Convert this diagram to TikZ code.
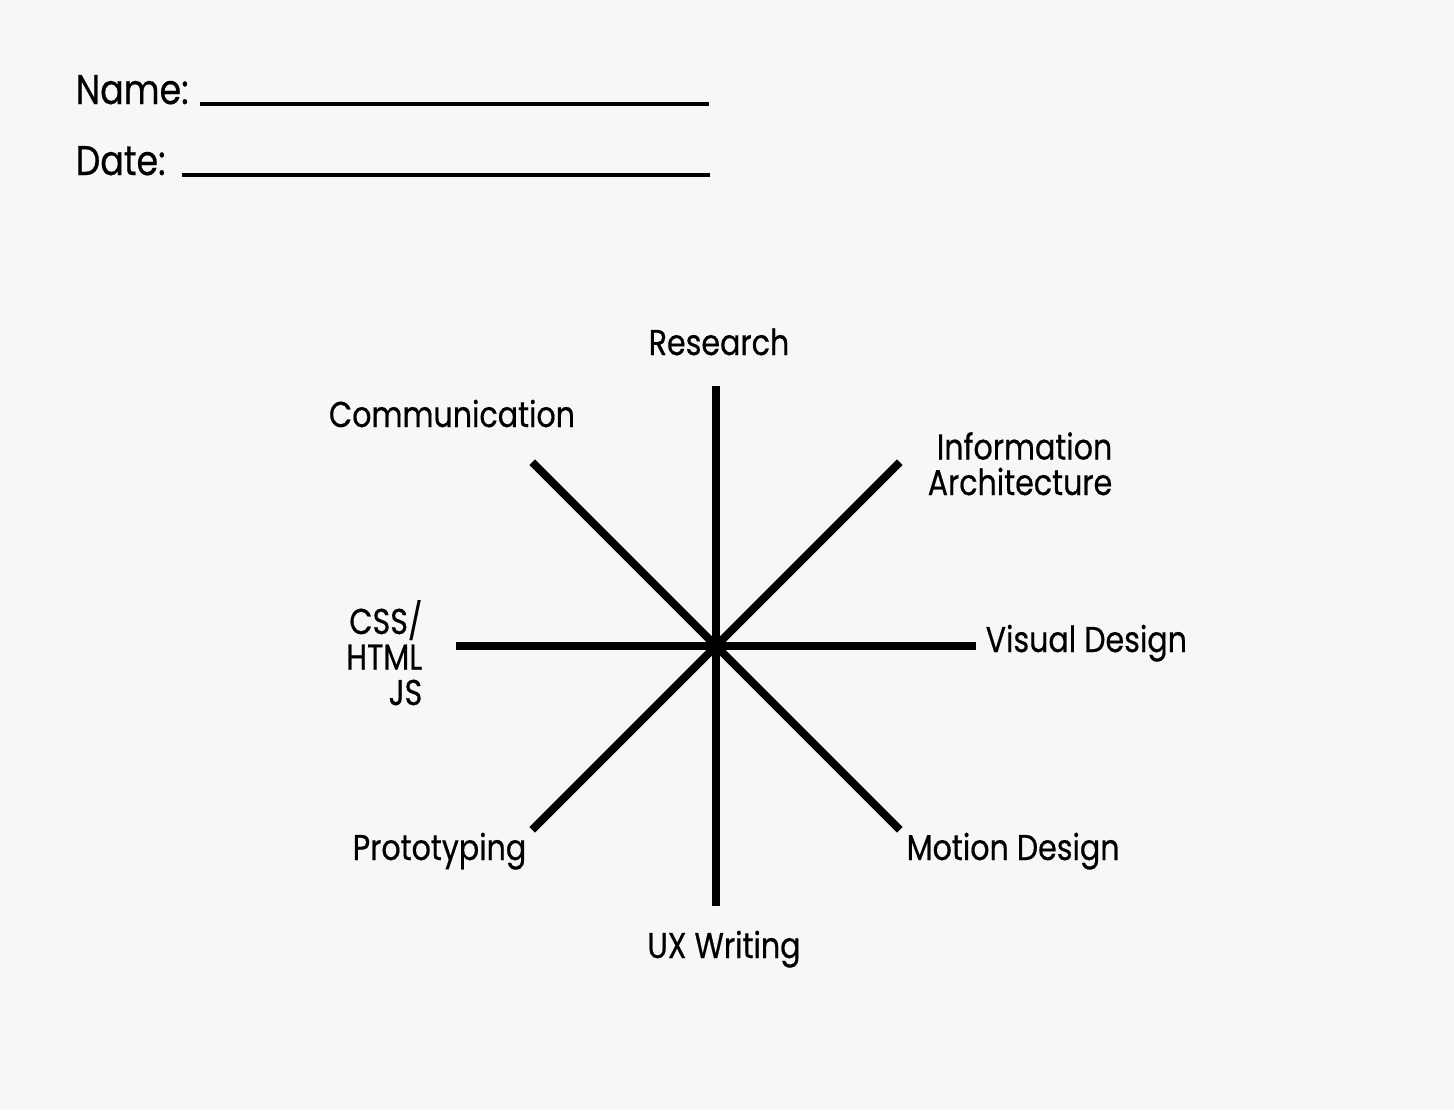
\documentclass[tikz,border=0pt]{standalone}
\usepackage{fontspec}
\setmainfont{Poppins}[FakeStretch=0.84, FakeBold=0.5]
\usetikzlibrary{positioning, calc}
\definecolor{paper}{RGB}{247,247,247}

\begin{document}
\begin{tikzpicture}[
  label text/.style={font=\fontsize{10.2pt}{10.1pt}\selectfont, inner sep=0pt, text=black},
  field text/.style={font=\fontsize{11.8pt}{12pt}\selectfont, inner sep=0pt, text=black},
  spoke/.style={line width=2.3pt, line cap=butt},
  blank/.style={line width=1.4pt}
]
% Paper
\fill[paper] (0, 0) rectangle (14.54, 11.10);
\useasboundingbox (0, 0) rectangle (14.54, 11.10);

% Name / Date fields
\node[field text, anchor=base west] (name) at (0.75, 10.06) {Name:};
\coordinate (name end) at (7.09, 10.06);
\draw[blank] ($(name.base east)+(0.11, 0)$) -- (name end);
\node[field text, anchor=base west] (date) at (0.75, 9.35) {Date:};
\coordinate (date end) at (7.10, 9.35);
\draw[blank] ($(date.base east)+(0.16, 0)$) -- (date end);

% Hub and spoke ends
\coordinate (hub) at (7.16, 4.64);
\coordinate (n) at ($(hub)+(90:2.6)$);
\coordinate (ne) at ($(hub)+(45:2.6)$);
\coordinate (e) at ($(hub)+(0:2.6)$);
\coordinate (se) at ($(hub)+(-45:2.6)$);
\coordinate (s) at ($(hub)+(-90:2.6)$);
\coordinate (sw) at ($(hub)+(-135:2.6)$);
\coordinate (w) at ($(hub)+(180:2.6)$);
\coordinate (nw) at ($(hub)+(135:2.6)$);

% Spokes
\draw[spoke] (n) -- (s);
\draw[spoke] (w) -- (e);
\draw[spoke] (nw) -- (se);
\draw[spoke] (sw) -- (ne);

% Labels
\node[label text, anchor=base] (research) at (7.19, 7.55) {Research};
\node[label text, anchor=base] (communication) at (4.52, 6.83) {Communication};
\node[label text, anchor=base east, align=right] (infoarch) at (11.13, 6.15) {Information\\Architecture};
\node[label text, anchor=base west] (visual) at (9.85, 4.58) {Visual Design};
\node[label text, anchor=base east, align=right] (frontend) at (4.23, 4.05) {CSS/\\HTML\\JS};
\node[label text, anchor=base] (prototyping) at (4.395, 2.50) {Prototyping};
\node[label text, anchor=base west] (motion) at (9.06, 2.50) {Motion Design};
\node[label text, anchor=base] (uxwriting) at (7.24, 1.52) {UX Writing};
\end{tikzpicture}
\end{document}
